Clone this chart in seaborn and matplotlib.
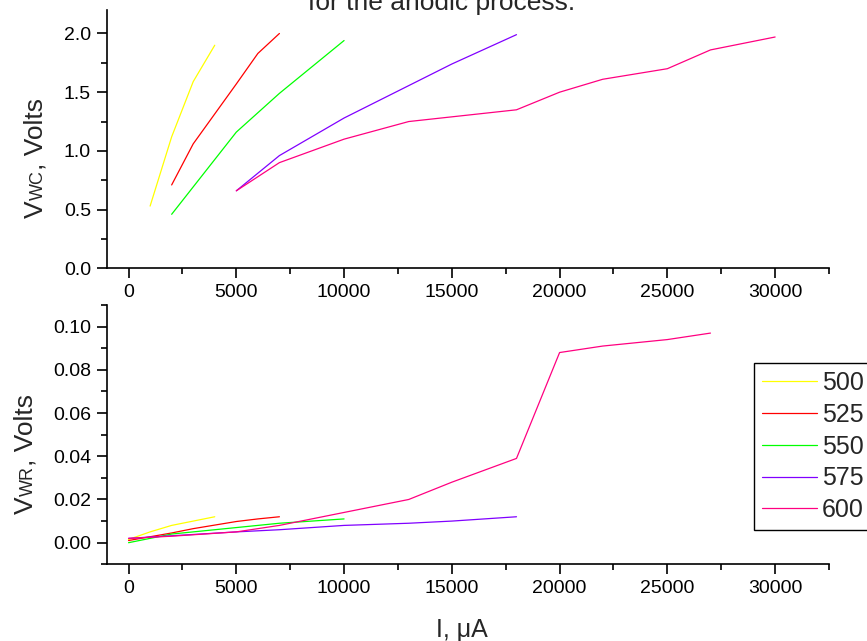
import matplotlib
matplotlib.use("Agg")
import matplotlib.pyplot as plt
from matplotlib.ticker import MultipleLocator
import pandas as pd
import seaborn as sns

# temperatures (legend entries)
temps = ["500", "525", "550", "575", "600"]
colors = ["#FFFF00", "#FF0000", "#00FF00", "#8000FF", "#FF0080"]

# upper panel: V_WC vs I
wc_i_500 = [1000, 2000, 3000, 4000]
wc_v_500 = [0.53, 1.12, 1.59, 1.90]
wc_i_525 = [2000, 3000, 5000, 6000, 7000]
wc_v_525 = [0.71, 1.06, 1.57, 1.83, 2.00]
wc_i_550 = [2000, 5000, 7000, 10000]
wc_v_550 = [0.46, 1.16, 1.49, 1.94]
wc_i_575 = [5000, 7000, 10000, 15000, 18000]
wc_v_575 = [0.66, 0.96, 1.28, 1.74, 1.99]
wc_i_600 = [5000, 7000, 10000, 13000, 15000, 18000, 20000, 22000, 25000, 27000, 30000]
wc_v_600 = [0.66, 0.90, 1.10, 1.25, 1.29, 1.35, 1.50, 1.61, 1.70, 1.86, 1.97]

# lower panel: V_WR vs I
wr_i_500 = [0, 1000, 2000, 3000, 4000]
wr_v_500 = [0.0015, 0.005, 0.008, 0.010, 0.012]
wr_i_525 = [0, 2000, 3000, 5000, 6000, 7000]
wr_v_525 = [0.001, 0.0045, 0.0065, 0.0098, 0.011, 0.012]
wr_i_550 = [0, 2000, 5000, 7000, 10000]
wr_v_550 = [0.000, 0.004, 0.007, 0.009, 0.011]
wr_i_575 = [0, 5000, 7000, 10000, 13000, 15000, 18000]
wr_v_575 = [0.002, 0.005, 0.006, 0.008, 0.009, 0.010, 0.012]
wr_i_600 = [0, 2000, 5000, 7000, 10000, 13000, 15000, 18000, 20000, 22000, 25000, 27000]
wr_v_600 = [0.002, 0.003, 0.005, 0.008, 0.014, 0.020, 0.028, 0.039, 0.088, 0.091, 0.094, 0.097]


def long_df(pairs):
    rows = []
    for t, (xs, ys) in zip(temps, pairs):
        for x, y in zip(xs, ys):
            rows.append({"T": t, "I": x, "V": y})
    return pd.DataFrame(rows)


df_wc = long_df([(wc_i_500, wc_v_500), (wc_i_525, wc_v_525), (wc_i_550, wc_v_550),
                 (wc_i_575, wc_v_575), (wc_i_600, wc_v_600)])
df_wr = long_df([(wr_i_500, wr_v_500), (wr_i_525, wr_v_525), (wr_i_550, wr_v_550),
                 (wr_i_575, wr_v_575), (wr_i_600, wr_v_600)])

sns.set_theme(style="ticks")
plt.rcParams["font.family"] = ["Liberation Sans", "DejaVu Sans"]
plt.rcParams["axes.linewidth"] = 1.2
for ax_name in ("xtick", "ytick"):
    plt.rcParams[f"{ax_name}.major.width"] = 1.2
    plt.rcParams[f"{ax_name}.minor.width"] = 1.2
    plt.rcParams[f"{ax_name}.major.size"] = 7.5
    plt.rcParams[f"{ax_name}.minor.size"] = 4
    plt.rcParams[f"{ax_name}.labelsize"] = 14
    plt.rcParams[f"{ax_name}.color"] = "black"
    plt.rcParams[f"{ax_name}.direction"] = "out"

W, H = 867, 641
fig = plt.figure(figsize=(W / 100, H / 100), dpi=100)
ax1 = fig.add_axes([107 / W, (H - 268.3) / H, 722 / W, 258.3 / H])
ax2 = fig.add_axes([107 / W, (H - 564.3) / H, 722 / W, 259.3 / H])

palette = dict(zip(temps, colors))
sns.lineplot(data=df_wc, x="I", y="V", hue="T", palette=palette, sort=False,
             estimator=None, linewidth=0.9, ax=ax1, legend=False)
sns.lineplot(data=df_wr, x="I", y="V", hue="T", palette=palette, sort=False,
             estimator=None, linewidth=0.9, ax=ax2)

for ax in (ax1, ax2):
    ax.set_xlim(-1000, 32500)
    ax.xaxis.set_major_locator(MultipleLocator(5000))
    ax.xaxis.set_minor_locator(MultipleLocator(2500))
    ax.set_xlabel("")
    ax.set_ylabel("")
    sns.despine(ax=ax)
    for s in ax.spines.values():
        s.set_color("black")
    ax.tick_params(axis="both", which="major", pad=4)

ax1.set_ylim(0, 2.2)
ax1.yaxis.set_major_locator(MultipleLocator(0.5))
ax1.yaxis.set_minor_locator(MultipleLocator(0.25))
ax1.yaxis.set_major_formatter(lambda v, p: f"{v:.1f}")

ax2.set_ylim(-0.01, 0.11)
ax2.yaxis.set_major_locator(MultipleLocator(0.02))
ax2.yaxis.set_minor_locator(MultipleLocator(0.01))
ax2.yaxis.set_major_formatter(lambda v, p: f"{v:.2f}")

leg = ax2.legend(loc="upper left", bbox_to_anchor=(754 / W, 1 - 363 / H),
                 bbox_transform=fig.transFigure, fontsize=18, frameon=True,
                 fancybox=False, handlelength=2.2, handletextpad=0.2,
                 borderpad=0.32, labelspacing=0.31, borderaxespad=0, title=None)
leg.get_frame().set_edgecolor("black")
leg.get_frame().set_linewidth(1.0)
leg.get_frame().set_alpha(1)

fig.text(442 / W, 1 - 10 / H, "for the anodic process.", ha="center",
         va="baseline", fontsize=19)
fig.text(462 / W, 1 - 637 / H, "I, μA", ha="center", va="baseline", fontsize=18)

# y labels: big V, smaller subscript-like letters, then ", Volts"
renderer = fig.canvas.get_renderer()


def vlabel(x_px, y_px, parts):
    y = y_px
    for txt, size in parts:
        t = fig.text(x_px / W, 1 - y / H, txt, rotation=90, rotation_mode="anchor",
                     ha="left", va="baseline", fontsize=size)
        bb = t.get_window_extent(renderer)
        y -= bb.height


vlabel(43, 218, [("V", 19), ("WC", 13), (", Volts", 19)])
vlabel(33, 514, [("V", 19), ("WR", 13), (", Volts", 19)])

fig.savefig("out.png", dpi=100)
